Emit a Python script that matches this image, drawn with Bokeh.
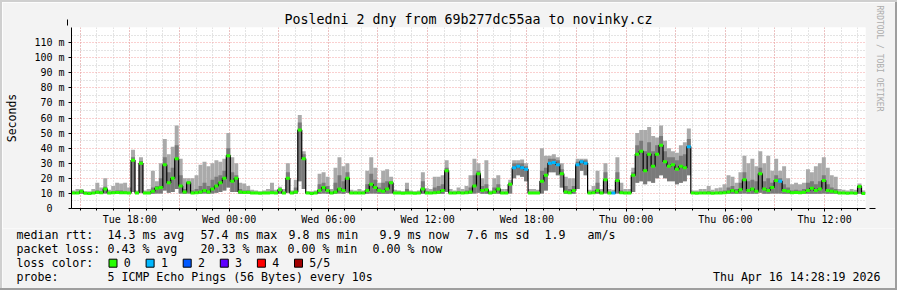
from datetime import datetime, timedelta
from bokeh.plotting import figure
from bokeh.layouts import column, row
from bokeh.models import (FixedTicker, Title, Arrow, NormalHead, ColumnDataSource, Range1d, Spacer)
from bokeh.core.properties import value
from bokeh.embed import file_html
from bokeh.resources import INLINE

TITLE = "Posledni 2 dny from 69b277dc55aa to novinky.cz"
END = datetime(2026, 4, 16, 14, 28, 19)
HOURS = 48

# median RTT per step (ms)
median = [
    10.3, 10.2, 11.5, 10.1, 9.9, 10.2, 10.8, 10.5, 13, 10.3,
    10.4, 10.6, 10.5, 10.4, 10.2, 32, 10.2, 30, 10.2, 10.3,
    11.5, 13.5, 14, 29, 17, 20, 33, 15, 11, 17,
    10.3, 10.5, 11, 12, 11, 13, 15, 17, 20, 35,
    18, 20, 11, 10.6, 10.8, 10.3, 10.2, 10.1, 10.2, 10.3,
    10.5, 10.2, 12.5, 10.2, 20, 10.2, 11, 52, 33, 10.2,
    10, 10.2, 12, 14, 12, 10.2, 11, 13, 12, 20,
    10.3, 10.2, 10.3, 10.2, 12, 16, 14, 12, 11.5, 13,
    17, 10.3, 10.2, 10.1, 10.3, 10.2, 10.1, 10.2, 13, 10.3,
    10.2, 10.5, 10.8, 12, 25, 10.3, 10.2, 10.5, 10.2, 10.4,
    11, 15, 23, 12, 12.5, 10.2, 11, 13, 10.2, 10.3,
    16, 27, 28, 27, 26, 10.2, 10.3, 10.2, 18, 22,
    30, 30.5, 29, 23, 11, 10.5, 12, 29, 31, 30,
    10.3, 10.5, 12, 10.2, 19, 10.3, 10.2, 18.5, 10.4, 10.2,
    10.3, 22, 36, 38, 25, 36, 28, 36, 42, 31,
    28, 29, 26, 28, 27, 41, 10.2, 10.1, 10.2, 10.3,
    10.2, 10.1, 10.2, 10.3, 10.5, 11, 12, 11, 12.5, 19,
    12, 13, 11.5, 23, 13, 12, 14, 18.6, 18, 12,
    11.5, 10.5, 10.6, 10.5, 10.8, 12, 13.5, 12, 13, 18.5,
    12, 11.5, 11, 10.3, 10.2, 10.1, 10.2, 10.1, 14.6, 9.9,
]
# lowest ping per step (ms)
smoke_lo = [
    9.8, 9.7, 9.8, 9.6, 9.5, 9.7, 9.8, 9.8, 10, 9.7,
    9.8, 9.8, 9.8, 9.8, 9.7, 11, 9.7, 10.5, 9.7, 9.8,
    9.8, 10, 10, 12, 10.5, 11, 13, 10, 9.8, 10,
    9.7, 9.8, 9.8, 10, 9.8, 10, 10.5, 11, 12, 14,
    11, 11, 9.8, 9.8, 9.8, 9.7, 9.7, 9.6, 9.7, 9.7,
    9.8, 9.7, 9.8, 9.7, 10.5, 9.7, 9.8, 18, 13, 9.6,
    9.6, 9.7, 9.8, 10, 9.8, 9.7, 9.8, 10, 9.8, 10.5,
    9.7, 9.7, 9.7, 9.7, 9.8, 10, 10, 9.8, 9.8, 9.8,
    10, 9.7, 9.7, 9.6, 9.7, 9.7, 9.6, 9.7, 9.8, 9.7,
    9.7, 9.8, 9.8, 9.8, 11, 9.7, 9.7, 9.7, 9.7, 9.7,
    9.8, 10, 10.5, 9.8, 9.8, 9.7, 9.8, 9.8, 9.7, 9.7,
    10, 20, 22, 21, 18, 9.7, 9.7, 9.7, 10, 12,
    24, 24, 22, 14, 9.8, 9.8, 9.8, 13, 25, 22,
    9.7, 9.8, 9.8, 9.7, 10, 9.7, 9.7, 10, 9.7, 9.7,
    9.7, 11, 17, 18, 16, 18, 17, 20, 22, 20,
    18, 18, 16, 17, 18, 22, 9.7, 9.6, 9.7, 9.7,
    9.7, 9.6, 9.7, 9.7, 9.8, 9.8, 9.8, 9.8, 9.8, 10,
    9.8, 9.8, 9.8, 10.5, 9.8, 9.8, 10, 10, 10, 9.8,
    9.8, 9.7, 9.7, 9.7, 9.8, 9.8, 9.8, 9.8, 9.8, 10,
    9.8, 9.8, 9.8, 9.7, 9.7, 9.6, 9.7, 9.6, 9.8, 9.7,
]
# upper edge of the dense (dark) smoke (ms)
smoke_mid = [
    10.8, 11, 11.5, 10.6, 10.5, 11, 12, 11.5, 14.5, 11,
    11.5, 12, 12, 11.5, 11, 34, 10.8, 31.5, 10.8, 11,
    14, 15, 20, 34, 24, 27, 42, 22, 13, 18,
    12, 13, 15, 17, 15, 19, 21, 22, 25, 40,
    24, 22, 13, 12, 12, 11, 10.8, 10.6, 10.8, 11,
    12, 11, 13, 11, 24, 10.8, 14, 57, 36, 10.6,
    10.5, 10.8, 16, 17, 15, 11, 17, 22, 18, 24,
    11, 10.8, 11, 10.8, 16, 23, 19, 14, 17, 18,
    18, 11, 10.8, 10.6, 13, 10.8, 10.6, 10.8, 18, 11.5,
    11, 14, 15, 16, 27, 11, 10.8, 11.5, 11, 12,
    14, 22, 25, 15, 16, 10.8, 14, 16, 11, 11,
    17, 30, 30, 30, 28, 11, 11, 11, 25, 27,
    33, 33, 32, 26, 15, 13, 15, 31, 32, 32,
    11, 12, 17, 11, 24, 11, 11, 24, 12, 11,
    11, 24, 42, 45, 38, 44, 38, 42, 48, 38,
    34, 34, 32, 35, 36, 46, 10.8, 10.6, 11, 11,
    11.5, 10.8, 11, 11.5, 12, 14, 15, 13, 17, 24,
    18, 19, 18, 27, 18, 20, 17, 22, 20, 16,
    14, 12, 12.5, 12, 13, 17, 18, 16, 18, 22,
    16, 14, 13, 11, 11, 10.8, 11, 10.8, 15.5, 11,
]
# highest ping per step (ms)
smoke_hi = [
    12, 13, 13, 11.5, 11.5, 13, 17, 14, 20, 12.5,
    15, 17, 16.5, 17, 14, 39, 12, 34, 12, 13,
    25, 18, 30, 46, 36, 41, 55, 33, 20, 20,
    20, 22, 29, 31, 28, 30, 32, 31, 33, 50,
    34, 30, 17, 16.5, 15, 12.5, 12, 11.5, 12, 13,
    17, 12.5, 14.5, 13, 30, 12, 19, 62, 38, 11.5,
    11.5, 12, 23, 24, 21, 13, 27, 34, 28, 30,
    12.5, 12, 13, 12, 25, 34, 27, 17, 25, 26,
    21, 12.5, 12, 11.5, 17, 12, 11.5, 12, 24, 13.5,
    13, 21, 21, 22, 32, 13, 12, 14, 13, 15,
    22, 33, 30, 20, 32, 12, 20, 22, 13, 13,
    19, 32, 32, 32.5, 30, 13, 13, 12.5, 40, 35,
    35, 36, 34, 30, 21, 20, 20, 33, 33, 33,
    12.5, 15, 25, 13, 30, 13, 12.5, 34, 17, 13,
    13, 27, 50, 52, 52, 54, 48, 47, 55, 45,
    40, 38, 37, 42, 44, 53, 12, 12, 13, 13,
    15, 12.5, 13.5, 14, 16, 22, 21, 17, 24, 35,
    30, 33, 28, 38, 30, 35, 25, 33, 25, 28,
    20, 16, 17, 16, 17, 26, 24, 28, 30, 34,
    27, 22, 21, 13, 12.5, 12, 13, 12.5, 16.6, 12,
]
# lost pings per step (of 5)
loss = [
    0, 0, 0, 0, 0, 0, 0, 0, 0, 0, 0, 0, 0, 0, 0, 0, 0, 0, 0, 0,
    0, 0, 0, 0, 0, 0, 0, 0, 0, 0, 0, 0, 0, 0, 0, 0, 0, 0, 0, 0,
    0, 0, 0, 0, 0, 0, 0, 0, 0, 0, 0, 0, 0, 0, 0, 0, 0, 0, 0, 0,
    0, 0, 0, 0, 0, 0, 0, 0, 0, 0, 0, 0, 0, 0, 0, 0, 0, 0, 0, 0,
    0, 0, 0, 0, 0, 0, 0, 0, 0, 0, 0, 0, 0, 0, 0, 0, 0, 0, 0, 0,
    0, 0, 0, 0, 0, 0, 0, 0, 0, 0, 0, 1, 1, 1, 1, 0, 0, 0, 0, 0,
    1, 1, 1, 0, 0, 0, 0, 1, 1, 1, 0, 0, 0, 0, 0, 0, 1, 0, 0, 0,
    0, 0, 0, 0, 0, 0, 0, 0, 0, 0, 0, 0, 0, 0, 0, 1, 0, 0, 0, 0,
    0, 0, 0, 0, 0, 0, 0, 0, 0, 0, 0, 0, 0, 0, 0, 0, 0, 0, 1, 0,
    0, 0, 0, 0, 0, 0, 0, 0, 0, 0, 0, 0, 0, 0, 0, 0, 0, 0, 0, 0,
]

loss_colors = ["#26ff00", "#00b8ff", "#0059ff", "#5e00ff", "#ff0000", "#a10000"]
loss_labels = ["0", "1", "2", "3", "4", "5/5"]

x_tick_labels = ["Tue 18:00", "Wed 00:00", "Wed 06:00", "Wed 12:00",
                 "Wed 18:00", "Thu 00:00", "Thu 06:00", "Thu 12:00"]
x_tick_times = [datetime(2026, 4, 14, 18), datetime(2026, 4, 15, 0), datetime(2026, 4, 15, 6),
                datetime(2026, 4, 15, 12), datetime(2026, 4, 15, 18), datetime(2026, 4, 16, 0),
                datetime(2026, 4, 16, 6), datetime(2026, 4, 16, 12)]
y_ticks = [0, 10, 20, 30, 40, 50, 60, 70, 80, 90, 100, 110]
y_tick_labels = ["0\u00a0\u00a0", "10 m", "20 m", "30 m", "40 m", "50 m", "60 m",
                 "70 m", "80 m", "90 m", "100 m", "110 m"]

legend_rows = [
    [(16, "median rtt:"), (107, "14.3 ms avg"), (200, "57.4 ms max"), (288, "9.8 ms min"),
     (379, "9.9 ms now"), (466, "7.6 ms sd"), (544, "1.9"), (587, "am/s")],
    [(16, "packet loss:"), (107, "0.43 % avg"), (200, "20.33 % max"), (287, "0.00 % min"),
     (372, "0.00 % now")],
    [(16, "loss color:")],
    [(16, "probe:"), (107, "5 ICMP Echo Pings (56 Bytes) every 10s")],
]
STAMP = "Thu Apr 16 14:28:19 2026"
CREDIT = "RRDTOOL / TOBI OETIKER"

# ---------------------------------------------------------------
EPOCH = datetime(1970, 1, 1)


def ms(dt):
    return int((dt - EPOCH).total_seconds() * 1000)


START = END - timedelta(hours=HOURS)
n = len(median)
step_ms = HOURS * 3600 * 1000 / n
t = [ms(START) + (i + 0.5) * step_ms for i in range(n)]

src = ColumnDataSource(dict(t=t, med=median, lo=smoke_lo, mid=smoke_mid, hi=smoke_hi,
                            col=[loss_colors[k] for k in loss]))

FONT = "DejaVu Sans Mono"
BG = "#f3f3f3"
SHADE_A = "#cfcfcf"
SHADE_B = "#9e9e9e"
B = 2                      # frame shade width
W = 897 - 2 * B            # inner width
MAIN_H = 228 - B
p = figure(width=W, height=MAIN_H, x_range=Range1d(ms(START), ms(END)), y_range=Range1d(0, 120),
           output_backend="svg", toolbar_location=None,
           min_border_left=67 - B, min_border_right=W - (867 - B), min_border_top=27 - B,
           min_border_bottom=MAIN_H - (208 - B),
           background_fill_color="white", border_fill_color=BG, outline_line_color=None)

p.title.text = TITLE
p.title.align = "center"
p.title.offset = -19
p.title.text_font = FONT
p.title.text_font_size = "13.3px"
p.title.text_font_style = "normal"
p.title.text_color = "#000000"
p.title.standoff = 1
p.add_layout(Title(text=CREDIT, align="left", offset=-22, standoff=19, text_font=FONT,
                   text_font_size="8px", text_font_style="normal", text_color="#acacac"), "right")

# grids
hour = timedelta(hours=1)
major_x, minor_x = [], []
h = datetime(2026, 4, 14, 15)
while h <= END:
    minor_x.append(ms(h))
    if h.hour % 3 == 0:
        major_x.append(ms(h))
    h += hour
p.xgrid.ticker = FixedTicker(ticks=major_x, minor_ticks=minor_x)
p.xgrid.grid_line_color = "#f4a0a0"
p.xgrid.grid_line_dash = "1 2"
p.xgrid.minor_grid_line_color = "#c8c8c8"
p.xgrid.minor_grid_line_dash = "1 2"
p.ygrid.ticker = FixedTicker(ticks=list(range(0, 121, 10)), minor_ticks=list(range(5, 120, 10)))
p.ygrid.grid_line_color = "#f4a0a0"
p.ygrid.grid_line_dash = "1 2"
p.ygrid.minor_grid_line_color = "#c8c8c8"
p.ygrid.minor_grid_line_dash = "1 2"

# axes
p.xaxis.ticker = FixedTicker(ticks=[ms(d) for d in x_tick_times], minor_ticks=minor_x)
p.xaxis.major_label_overrides = {ms(d): s for d, s in zip(x_tick_times, x_tick_labels)}
p.yaxis.ticker = FixedTicker(ticks=y_ticks, minor_ticks=[])
p.yaxis.major_label_overrides = dict(zip(y_ticks, y_tick_labels))
p.yaxis.axis_label = "Seconds"
for ax in (p.xaxis, p.yaxis):
    ax.major_label_text_font = FONT
    ax.major_label_text_font_size = "10px"
    ax.major_label_text_color = "#000000"
    ax.axis_line_color = "#000000"
    ax.major_tick_line_color = "#000000"
    ax.minor_tick_line_color = "#000000"
    ax.major_tick_out = 3
    ax.major_tick_in = 0
    ax.minor_tick_out = 2
    ax.minor_tick_in = 0
    ax.major_label_standoff = 2
p.yaxis.axis_label_text_font = FONT
p.yaxis.axis_label_text_font_size = "11.5px"
p.yaxis.axis_label_text_font_style = "normal"
p.yaxis.axis_label_text_color = "#000000"
p.yaxis.axis_label_standoff = 12
p.yaxis.major_label_standoff = 4

# smoke
p.vbar(x="t", width=step_ms, bottom="lo", top="hi", source=src,
       fill_color="#aaaaaa", line_color=None)
p.vbar(x="t", width=step_ms, bottom="lo", top="mid", source=src,
       fill_color="#7a7a7a", line_color=None)
# median
p.step(x="t", y="med", source=src, mode="center", line_color="#000000", line_width=1.2)
p.rect(x="t", y="med", width=step_ms, height=3, height_units="screen", source=src,
       fill_color="col", line_color=None)

# axis arrows (canvas pixels of this figure)
p.add_layout(Arrow(end=NormalHead(size=6, fill_color="#7f0000", line_color="#7f0000"),
                   x_start=67 - B, y_start=212 - B, x_end=67 - B, y_end=19 - B,
                   start_units="canvas", end_units="canvas", line_color="#000000", line_width=1))
p.add_layout(Arrow(end=NormalHead(size=6, fill_color="#7f0000", line_color="#7f0000"),
                   x_start=62 - B, y_start=208 - B, x_end=875 - B, y_end=208 - B,
                   start_units="canvas", end_units="canvas", line_color="#000000", line_width=1))

# ---- legend strip below the graph (coordinates = page pixels) ----
LEG_H = 290 - B - 228
q = figure(width=W, height=LEG_H, x_range=Range1d(B, 897 - B), y_range=Range1d(290 - B, 228),
           output_backend="svg", toolbar_location=None, x_axis_location=None, y_axis_location=None,
           min_border=0, min_border_left=0, min_border_right=0, min_border_top=0, min_border_bottom=0,
           background_fill_color=BG, border_fill_color=BG, outline_line_color=None)
for fig in (p, q):
    if "frame_align" in fig.properties():
        fig.frame_align = False
q.xgrid.visible = False
q.ygrid.visible = False
rows_y = [234, 248, 262, 276]
tx, ty, tt = [], [], []
for row_items, yy in zip(legend_rows, rows_y):
    for xx, s in row_items:
        tx.append(xx)
        ty.append(yy)
        tt.append(s)
box_x = [112.5 + 37.1 * k for k in range(len(loss_colors))]
for k, s in enumerate(loss_labels):
    tx.append(box_x[k] + 10.8)
    ty.append(262)
    tt.append(s)
q.text(x=tx, y=ty, text=tt, text_font=value(FONT), text_font_size=value("11.6px"),
       text_baseline="middle", text_align="left", text_color="#000000")
q.text(x=[880], y=[276], text=[STAMP], text_font=value(FONT), text_font_size=value("11.6px"),
       text_baseline="middle", text_align="right", text_color="#000000")
q.rect(x=box_x, y=[262.7] * len(box_x), width=8, height=8, fill_color=loss_colors,
       line_color="#000000", line_width=1)

# image frame shades
top = Spacer(width=897, height=B, styles={"background-color": SHADE_A})
left = Spacer(width=B, height=290 - 2 * B, styles={"background-color": SHADE_A})
right = Spacer(width=B, height=290 - 2 * B, styles={"background-color": SHADE_B})
bottom = Spacer(width=897, height=B, styles={"background-color": SHADE_B})
layout = column(top, row(left, column(p, q, spacing=0), right, spacing=0), bottom, spacing=0)
open("out.html", "w").write(file_html(layout, INLINE))
